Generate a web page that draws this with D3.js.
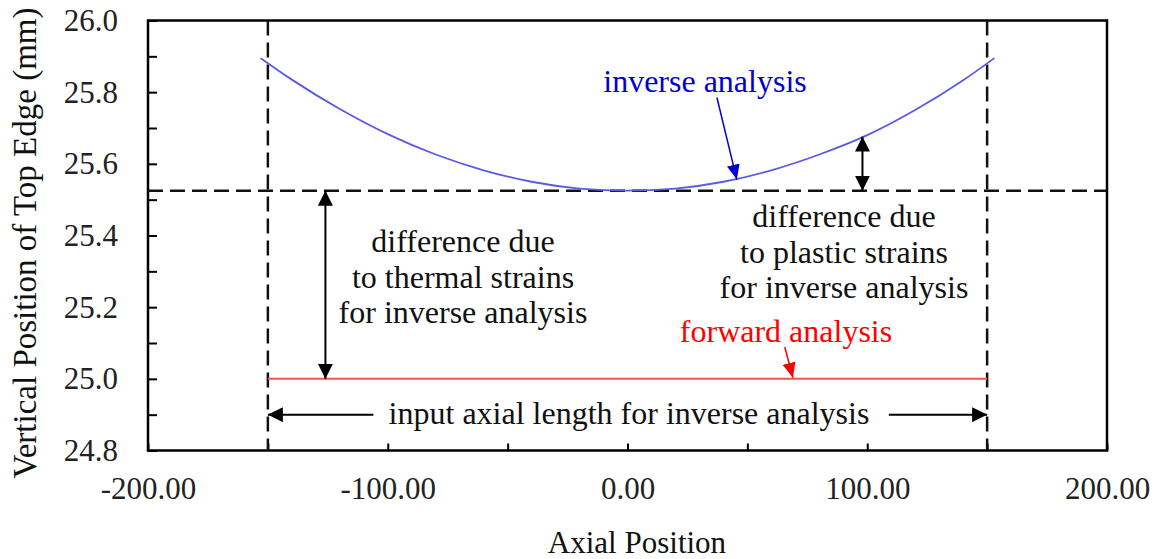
<!DOCTYPE html>
<html>
<head>
<meta charset="utf-8">
<script src="https://cdn.jsdelivr.net/npm/d3@7"></script>
<style>
  body { margin: 0; background: #fff; }
  text { font-family: "Liberation Serif", "Times New Roman", serif; }
</style>
</head>
<body>
<div id="container"></div>
<script>
// axial positions and vertical position of top edge (mm)
var inverseX = [-153, -140, -120, -100, -80, -60, -40, -20, 0, 20, 40, 60, 80, 100, 120, 140, 153];
var inverseY = [25.895, 25.835, 25.753, 25.683, 25.626, 25.582, 25.550, 25.531, 25.525, 25.531, 25.550, 25.582, 25.626, 25.680, 25.750, 25.833, 25.895];
var forwardX = [-150, 150];
var forwardY = [25.0, 25.0];

var baseLevel = 25.525;      // horizontal dashed line
var lengthBounds = [-150, 150]; // vertical dashed lines

var xTicks = [-200, -150, -100, -50, 0, 50, 100, 150, 200];
var xLabels = [-200, -100, 0, 100, 200];
var yTicks = [24.8, 24.9, 25.0, 25.1, 25.2, 25.3, 25.4, 25.5, 25.6, 25.7, 25.8, 25.9, 26.0];
var yLabels = [24.8, 25.0, 25.2, 25.4, 25.6, 25.8, 26.0];

var width = 1157,
    height = 559;

var svg = d3.select("#container")
  .append("svg")
  .attr("width", width)
  .attr("height", height);

var x = d3.scaleLinear().domain([-200, 200]).range([148, 1107]);
var y = d3.scaleLinear().domain([24.8, 26.0]).range([450.5, 20.5]);

// arrow heads
var defs = svg.append("defs");
function marker(id, color, w, h) {
  defs.append("marker")
    .attr("id", id)
    .attr("viewBox", "0 0 " + h + " " + w)
    .attr("refX", h)
    .attr("refY", w / 2)
    .attr("markerWidth", h)
    .attr("markerHeight", w)
    .attr("markerUnits", "userSpaceOnUse")
    .attr("orient", "auto-start-reverse")
    .append("path")
    .attr("d", "M0,0L" + h + "," + (w / 2) + "L0," + w + "Z")
    .attr("fill", color);
}
marker("headBlack", "#000", 15, 15);
marker("headBlue", "#0000d0", 13, 15);
marker("headRed", "#ff0000", 13, 15);

// axes (ticks inward)
var yAxis = d3.axisLeft(y)
  .tickValues(yTicks)
  .tickSize(-9)
  .tickPadding(30)
  .tickFormat(function(d) {
    return yLabels.some(function(v) { return Math.abs(v - d) < 1e-6; }) ? d.toFixed(1) : "";
  });

var xAxis = d3.axisBottom(x)
  .tickValues(xTicks)
  .tickSize(-7)
  .tickPadding(26)
  .tickFormat(function(d) {
    return xLabels.indexOf(d) >= 0 ? d.toFixed(2) : "";  // plain hyphen like the original
  });

var gy = svg.append("g")
  .attr("transform", "translate(" + x(-200) + ",0)")
  .call(yAxis);
var gx = svg.append("g")
  .attr("transform", "translate(0," + y(24.8) + ")")
  .call(xAxis);

[gx, gy].forEach(function(g) {
  g.select(".domain").remove();
  g.selectAll("line").attr("stroke", "#000").attr("stroke-width", 2);
  g.selectAll("text")
    .attr("font-size", 31)
    .attr("fill", "#222");
});

// plot frame
svg.append("rect")
  .attr("x", x(-200))
  .attr("y", y(26.0))
  .attr("width", x(200) - x(-200))
  .attr("height", y(24.8) - y(26.0))
  .attr("fill", "none")
  .attr("stroke", "#000")
  .attr("stroke-width", 2.5);

// dashed guide lines
svg.selectAll(".vdash")
  .data(lengthBounds)
  .enter()
  .append("line")
  .attr("x1", function(d) { return x(d); })
  .attr("x2", function(d) { return x(d); })
  .attr("y1", y(26.0))
  .attr("y2", y(24.8))
  .attr("stroke", "#111")
  .attr("stroke-width", 2.5)
  .attr("stroke-dasharray", "15,7");

svg.append("line")
  .attr("x1", x(-200))
  .attr("x2", x(200))
  .attr("y1", y(baseLevel))
  .attr("y2", y(baseLevel))
  .attr("stroke", "#111")
  .attr("stroke-width", 2.5)
  .attr("stroke-dasharray", "15,7");

// series
var line = d3.line()
  .x(function(d) { return x(d[0]); })
  .y(function(d) { return y(d[1]); })
  .curve(d3.curveMonotoneX);

svg.append("path")
  .datum(d3.zip(inverseX, inverseY))
  .attr("d", line)
  .attr("fill", "none")
  .attr("stroke", "#5a5ae6")
  .attr("stroke-width", 1.8);

svg.append("path")
  .datum(d3.zip(forwardX, forwardY))
  .attr("d", line)
  .attr("fill", "none")
  .attr("stroke", "#ff5050")
  .attr("stroke-width", 2);

// annotation arrows
function arrow(x1, y1, x2, y2, color, head, both, w) {
  var l = svg.append("line")
    .attr("x1", x(x1)).attr("y1", y(y1))
    .attr("x2", x(x2)).attr("y2", y(y2))
    .attr("stroke", color)
    .attr("stroke-width", w || 2)
    .attr("marker-end", "url(#" + head + ")");
  if (both) l.attr("marker-start", "url(#" + head + ")");
}
arrow(-126, 25.0, -126, baseLevel, "#000", "headBlack", true);
arrow(98, baseLevel, 98, 25.676, "#000", "headBlack", true);
arrow(-106, 24.9, -150, 24.9, "#000", "headBlack", false);
arrow(109, 24.9, 150, 24.9, "#000", "headBlack", false);
arrow(37.3, 25.785, 45.6, 25.556, "#0000d0", "headBlue", false, 1.5);
arrow(65.6, 25.089, 69, 25.003, "#ff0000", "headRed", false, 1.5);

// annotation texts
function label(lines, cx, y0, color) {
  var t = svg.append("text")
    .attr("text-anchor", "middle")
    .attr("font-size", 32)
    .attr("fill", color);
  lines.forEach(function(s, i) {
    t.append("tspan").attr("x", cx).attr("y", y0 + i * 35.5).text(s);
  });
}
label(["inverse analysis"], 705, 92, "#0000d0");
label(["forward analysis"], 786, 342, "#ff0000");
label(["difference due", "to thermal strains", "for inverse analysis"], 463, 252, "#111");
label(["difference due", "to plastic strains", "for inverse analysis"], 844, 227, "#111");
label(["input axial length for inverse analysis"], 629, 424, "#111");

// axis titles
svg.append("text")
  .attr("x", 637)
  .attr("y", 553)
  .attr("text-anchor", "middle")
  .attr("font-size", 31)
  .attr("fill", "#111")
  .text("Axial Position");

svg.append("text")
  .attr("transform", "translate(36,243) rotate(-90)")
  .attr("text-anchor", "middle")
  .attr("font-size", 33)
  .attr("fill", "#111")
  .text("Vertical Position of Top Edge (mm)");
</script>
</body>
</html>
